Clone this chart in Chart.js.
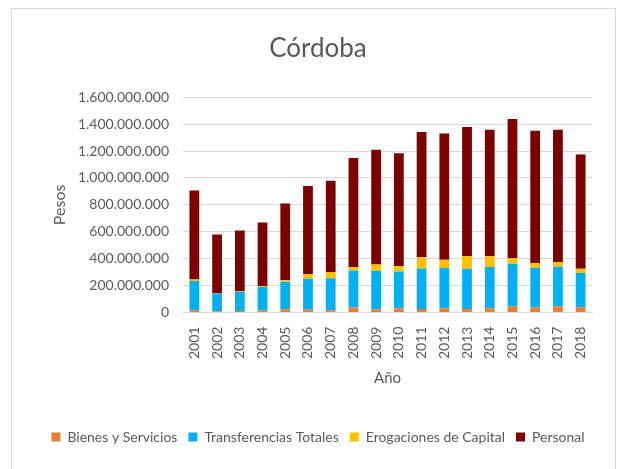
<!DOCTYPE html>
<html>
<head>
<meta charset="utf-8">
<script src="https://cdn.jsdelivr.net/npm/chart.js@4"></script>
<style>
  html, body { margin: 0; padding: 0; background: #fff; }
  #wrap { position: relative; width: 618px; height: 469px; overflow: hidden; }
  #frame { position: absolute; left: 11px; top: 8px; width: 605px; height: 480px; border: 1px solid #d9d9d9; box-sizing: border-box; }
  canvas { position: absolute; left: 0; top: 0; }
</style>
</head>
<body>
<div id="wrap">
  <div id="frame"></div>
  <canvas id="chart" width="618" height="469"></canvas>
</div>
<script>
// years and series (pesos, millones)
const years = ['2001','2002','2003','2004','2005','2006','2007','2008','2009','2010','2011','2012','2013','2014','2015','2016','2017','2018'];
const bienes = [17, 8, 12, 15, 25, 22, 17, 37, 25, 30, 27, 32, 27, 32, 45, 37, 47, 40];
const transferencias = [217, 134, 143, 174, 204, 229, 237, 276, 286, 274, 301, 299, 299, 306, 318, 296, 294, 254];
const erogaciones = [12, 2, 4, 8, 10, 35, 47, 23, 45, 42, 85, 62, 92, 80, 43, 33, 35, 32];
const personal = [660, 436, 451, 472, 572, 654, 679, 813, 853, 838, 928, 938, 960, 940, 1032, 985, 982, 848];

const M = 1000000;
const toPesos = arr => arr.map(v => v * M);

function formatDots(v) {
	return String(Math.round(v)).replace(/\B(?=(\d{3})+(?!\d))/g, '.');
}

const font = "Lato, 'Open Sans', sans-serif";
const grey = '#595959';

const ctx = document.getElementById('chart').getContext('2d');
const chart = new Chart(ctx, {
	type: 'bar',
	data: {
		labels: years,
		datasets: [{
			label: 'Bienes y Servicios',
			data: toPesos(bienes),
			backgroundColor: '#ED7D31'
		}, {
			label: 'Transferencias Totales',
			data: toPesos(transferencias),
			backgroundColor: '#00B0F0'
		}, {
			label: 'Erogaciones de Capital',
			data: toPesos(erogaciones),
			backgroundColor: '#FFC000'
		}, {
			label: 'Personal',
			data: toPesos(personal),
			backgroundColor: '#7B0000'
		}]
	},
	options: {
		responsive: false,
		animation: false,
		devicePixelRatio: 1,
		layout: { padding: { left: 28, right: 10, top: 33, bottom: 15 } },
		datasets: { bar: { barPercentage: 0.43, categoryPercentage: 1 } },
		plugins: {
			title: {
				display: true,
				text: 'Córdoba',
				color: grey,
				font: { family: font, size: 26, weight: 'normal' },
				padding: { top: 0, bottom: 33 }
			},
			legend: {
				position: 'bottom',
				labels: {
					color: grey,
					font: { family: font, size: 14 },
					boxWidth: 9,
					boxHeight: 9,
					padding: 11
				}
			},
			tooltip: { enabled: false }
		},
		scales: {
			x: {
				stacked: true,
				grid: { display: false },
				border: { color: '#d9d9d9', width: 1 },
				ticks: {
					color: grey,
					font: { family: font, size: 14 },
					maxRotation: 90,
					minRotation: 90,
					padding: 6
				},
				title: {
					display: true,
					text: 'Año',
					color: grey,
					font: { family: font, size: 15 },
					padding: { top: 4, bottom: 32 }
				}
			},
			y: {
				stacked: true,
				min: 0,
				max: 1600000000,
				afterFit: scale => { scale.width = 155; },
				grid: { color: '#d9d9d9', lineWidth: 1, drawTicks: false },
				border: { display: false },
				ticks: {
					stepSize: 200000000,
					color: grey,
					font: { family: font, size: 14 },
					padding: 14,
					callback: v => formatDots(v)
				},
				title: {
					display: true,
					text: 'Pesos',
					color: grey,
					font: { family: font, size: 16 },
					padding: { top: 22, bottom: 2 }
				}
			},
			// empty right axis, only keeps room to the right of the plot
			yRight: {
				position: 'right',
				afterFit: scale => { scale.width = 16; },
				grid: { display: false },
				border: { display: false },
				ticks: { display: false }
			}
		}
	}
});
</script>
</body>
</html>
